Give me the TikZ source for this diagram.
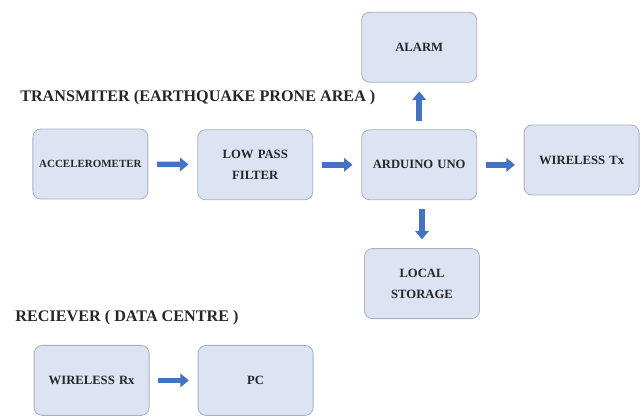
\documentclass[tikz,border=0pt]{standalone}
\usepackage{fontspec}
\setmainfont{Liberation Serif}
\usepackage{tikz}
\usetikzlibrary{arrows.meta,positioning}
\definecolor{boxfill}{HTML}{DCE3F2}
\definecolor{boxline}{HTML}{A9B1C0}
\definecolor{arrowblue}{HTML}{4472C4}
\definecolor{textdark}{HTML}{262626}
\tikzstyle{block} = [rectangle, draw=boxline, fill=boxfill, line width=0.6pt,
    text width=2.6cm, align=center, rounded corners=0.2cm,
    minimum width=2.875cm, minimum height=1.75cm, text=textdark,
    font=\fontsize{9}{15}\selectfont\bfseries]
\tikzstyle{line} = [draw=arrowblue, line width=4pt,
    -{Triangle[length=6pt,width=9.5pt]}, shorten >=0.22cm, shorten <=0.22cm]
\tikzstyle{heading} = [anchor=west, inner sep=0pt, text=textdark,
    font=\fontsize{11.5}{13}\selectfont\bfseries]

\begin{document}
\begin{tikzpicture}

\useasboundingbox (0,0) rectangle (16.1,-10.475);

% Transmitter chart
\node[heading] (txtitle) at (0.5,-2.45) {TRANSMITER (EARTHQUAKE PRONE AREA )};

% Box nodes
\node[block, font=\fontsize{7.8}{9}\selectfont\bfseries] (accel) at (2.26,-4.1) {ACCELEROMETER};
\node[block] (lowpass) at (6.38,-4.12) {LOW PASS\\FILTER};
\node[block] (arduino) at (10.48,-4.12) {ARDUINO UNO};
\node[block] (alarm) at (10.48,-1.18) {ALARM};
\node[block] (wtx) at (14.54,-4.0) {WIRELESS Tx};
\node[block] (storage) at (10.55,-7.09) {LOCAL\\STORAGE};

% Arrows
\draw[line] (accel) -- (lowpass);
\draw[line] (lowpass) -- (arduino);
\draw[line] (arduino) -- (alarm);
\draw[line] (arduino.east) -- (arduino.east -| wtx.west);
\draw[line] (arduino.south -| storage) -- (storage);

% Receiver chart
\node[heading] (rxtitle) at (0.38,-7.93) {RECIEVER ( DATA CENTRE )};

% Box nodes
\node[block] (wrx) at (2.29,-9.51) {WIRELESS Rx};
\node[block] (pc) at (6.39,-9.51) {PC};

% Arrows
\draw[line] (wrx) -- (pc);

\end{tikzpicture}
\end{document}
